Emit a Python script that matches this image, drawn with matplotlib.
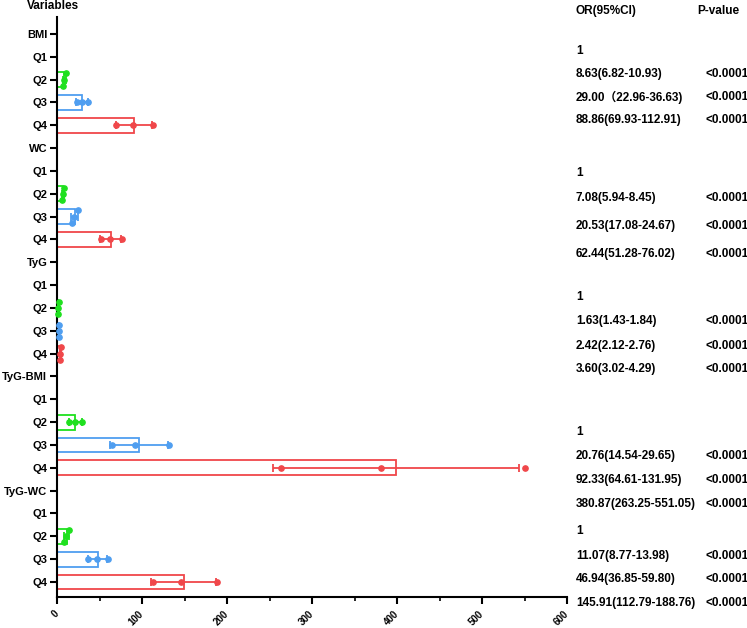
import numpy as np
import matplotlib
matplotlib.use('Agg')
import matplotlib.pyplot as plt
from matplotlib.ticker import MultipleLocator

plt.rcParams['font.family'] = ['Liberation Sans', 'Noto Sans CJK SC', 'DejaVu Sans']
plt.rcParams['font.weight'] = 'bold'

# 數據: Q2, Q3, Q4 的 OR 及 95% CI (Q1 為參照組)
groups = ['BMI', 'WC', 'TyG', 'TyG-BMI', 'TyG-WC']
quartiles = ['Q1', 'Q2', 'Q3', 'Q4']

or_vals = [[8.63, 29.00, 88.86],
           [7.08, 20.53, 62.44],
           [1.63, 2.42, 3.60],
           [20.76, 92.33, 380.87],
           [11.07, 46.94, 145.91]]
ci_low = [[6.82, 22.96, 69.93],
          [5.94, 17.08, 51.28],
          [1.43, 2.12, 3.02],
          [14.54, 64.61, 263.25],
          [8.77, 36.85, 112.79]]
ci_high = [[10.93, 36.63, 112.91],
           [8.45, 24.67, 76.02],
           [1.84, 2.76, 4.29],
           [29.65, 131.95, 551.05],
           [13.98, 59.80, 188.76]]

or_labels = [['1', '8.63(6.82-10.93)', '29.00（22.96-36.63)', '88.86(69.93-112.91)'],
             ['1', '7.08(5.94-8.45)', '20.53(17.08-24.67)', '62.44(51.28-76.02)'],
             ['1', '1.63(1.43-1.84)', '2.42(2.12-2.76)', '3.60(3.02-4.29)'],
             ['1', '20.76(14.54-29.65)', '92.33(64.61-131.95)', '380.87(263.25-551.05)'],
             ['1', '11.07(8.77-13.98)', '46.94(36.85-59.80)', '145.91(112.79-188.76)']]
p_labels = ['', '<0.0001', '<0.0001', '<0.0001']

colors = ['#1fe01f', '#4f9ef0', '#f0474a']

W, H = 747, 628
fig = plt.figure(figsize=(W / 100, H / 100), dpi=100)
ax = fig.add_axes([57 / W, 1 - 597 / H, (567 - 57) / W, (597 - 17) / H])

row_labels = []
for gi, g in enumerate(groups):
    base = gi * 5
    row_labels += [g] + quartiles
    for qi in range(3):
        y = base + 2 + qi
        vals = np.array([ci_low[gi][qi], or_vals[gi][qi], ci_high[gi][qi]])
        m = vals.mean()
        sd = vals.std(ddof=1)
        c = colors[qi]
        ax.barh(y, m, height=0.65, facecolor='white', edgecolor=c, linewidth=1.3, zorder=2)
        ax.errorbar(m, y, xerr=sd, fmt='none', ecolor=c, elinewidth=1.3,
                    capsize=3, capthick=1.3, zorder=3)
        # 點太靠近時上下錯開
        if vals.max() - vals.min() < 10:
            offs = np.array([0.27, 0.0, -0.27])
        else:
            offs = np.zeros(3)
        ax.plot(vals, y + offs, 'o', color=c, ms=3.8, zorder=4, clip_on=False)

ax.set_xlim(0, 600)
ax.set_ylim(24.66, -0.74)
ax.set_yticks(np.arange(25))
ax.set_yticklabels(row_labels, fontsize=8, fontweight='bold')
ax.xaxis.set_major_locator(MultipleLocator(100))
ax.xaxis.set_minor_locator(MultipleLocator(50))
for lab in ax.get_xticklabels():
    lab.set_rotation(45)
    lab.set_ha('right')
    lab.set_va('center')
    lab.set_rotation_mode('anchor')
    lab.set_fontsize(7)
    lab.set_fontweight('bold')

for s in ['top', 'right']:
    ax.spines[s].set_visible(False)
for s in ['left', 'bottom']:
    ax.spines[s].set_linewidth(1.5)
ax.tick_params(axis='y', length=5, width=1.5, pad=2)
ax.tick_params(axis='x', which='major', length=5, width=1.5, pad=6)
ax.tick_params(axis='x', which='minor', length=3, width=1.2)

# 標題與右側文字
fig.text(27 / W, 1 - 6 / H, 'Variables', fontsize=8.5, fontweight='bold', va='center')
fig.text(576 / W, 1 - 11 / H, 'OR(95%CI)', fontsize=8.5, fontweight='bold', va='center')
fig.text(697 / W, 1 - 11 / H, 'P-value', fontsize=8.5, fontweight='bold', va='center')

text_rows_px = [[51, 74, 97, 120],
                [173, 198, 226, 254],
                [297, 321, 346, 369],
                [432, 456, 480, 504],
                [531, 556, 579, 603]]
for gi in range(len(groups)):
    for k in range(4):
        yy = 1 - text_rows_px[gi][k] / H
        fig.text(576 / W, yy, or_labels[gi][k], fontsize=8.5, fontweight='bold', va='center')
        if p_labels[k]:
            fig.text(705 / W, yy, p_labels[k], fontsize=8.5, fontweight='bold', va='center')

fig.savefig('out.png', dpi=100)
